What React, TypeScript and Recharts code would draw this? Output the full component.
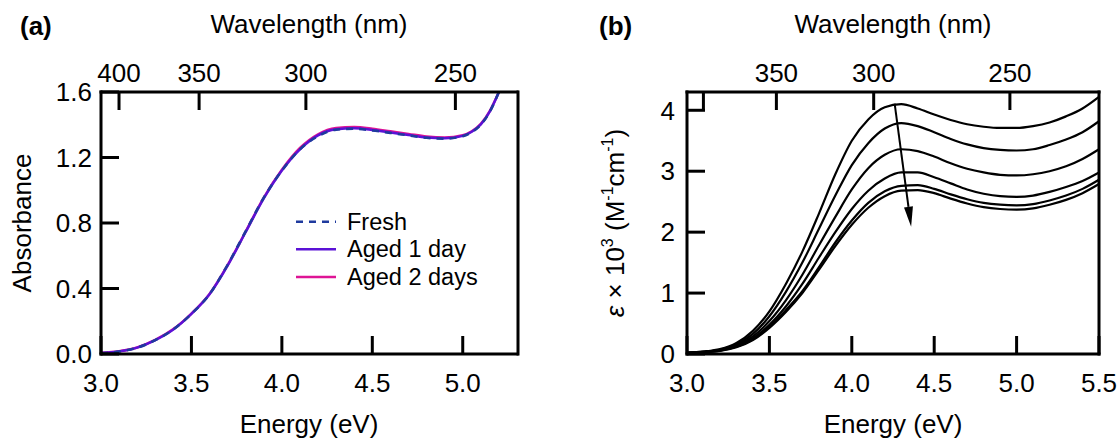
import React from "react";
import { LineChart, Line, XAxis, YAxis, Legend, ReferenceLine } from "recharts";

// hc in eV*nm, used to place the wavelength ticks on the energy scale
const HC = 1239.84;

// ---- panel (a): absorbance ----
const energyA = [3.0, 3.1, 3.2, 3.3, 3.4, 3.5, 3.6, 3.7, 3.8, 3.9, 4.0, 4.1, 4.2, 4.3, 4.4, 4.5, 4.6, 4.7, 4.8, 4.9, 5.0, 5.05, 5.1, 5.15, 5.2];
const freshA = [0.005, 0.015, 0.038, 0.085, 0.15, 0.245, 0.365, 0.545, 0.75, 0.955, 1.12, 1.25, 1.33, 1.37, 1.375, 1.365, 1.35, 1.335, 1.32, 1.315, 1.33, 1.355, 1.4, 1.48, 1.6];
const aged1A = [0.006, 0.016, 0.039, 0.085, 0.15, 0.245, 0.365, 0.54, 0.745, 0.95, 1.12, 1.25, 1.335, 1.372, 1.378, 1.368, 1.352, 1.337, 1.322, 1.317, 1.332, 1.357, 1.402, 1.482, 1.6];
const aged2A = [0.007, 0.017, 0.04, 0.086, 0.152, 0.247, 0.367, 0.543, 0.748, 0.955, 1.125, 1.258, 1.342, 1.38, 1.386, 1.376, 1.36, 1.344, 1.328, 1.322, 1.336, 1.36, 1.405, 1.485, 1.6];

const energyTicksA = [3.0, 3.5, 4.0, 4.5, 5.0];
const absTicks = [0, 0.4, 0.8, 1.2, 1.6];
const absMinorTicks = [0.2, 0.6, 1.0, 1.4];
const wavelengthsA = [400, 350, 300, 250];

// ---- panel (b): molar absorptivity, 6 spectra ----
const energyB = [3.0, 3.1, 3.2, 3.3, 3.4, 3.5, 3.6, 3.7, 3.8, 3.9, 4.0, 4.1, 4.2, 4.3, 4.4, 4.5, 4.6, 4.7, 4.8, 4.9, 5.0, 5.1, 5.2, 5.3, 5.4, 5.5];
const eps1 = [0.02, 0.04, 0.08, 0.18, 0.38, 0.7, 1.15, 1.68, 2.3, 2.95, 3.5, 3.85, 4.05, 4.1, 4.03, 3.93, 3.84, 3.77, 3.73, 3.71, 3.71, 3.74, 3.8, 3.9, 4.03, 4.22];
const eps2 = [0.02, 0.04, 0.07, 0.16, 0.33, 0.62, 1.02, 1.5, 2.05, 2.6, 3.1, 3.46, 3.7, 3.79, 3.74, 3.64, 3.53, 3.44, 3.38, 3.35, 3.34, 3.36, 3.43, 3.52, 3.64, 3.82];
const eps3 = [0.02, 0.035, 0.065, 0.14, 0.29, 0.54, 0.88, 1.3, 1.78, 2.25, 2.7, 3.05, 3.27, 3.36, 3.33, 3.24, 3.13, 3.04, 2.98, 2.94, 2.93, 2.95, 3.0, 3.08, 3.2, 3.36];
const eps4 = [0.02, 0.03, 0.06, 0.13, 0.26, 0.48, 0.78, 1.15, 1.58, 2.0, 2.38, 2.68, 2.88, 2.98, 2.98, 2.9, 2.8, 2.7, 2.63, 2.59, 2.58, 2.6, 2.66, 2.74, 2.84, 2.98];
const eps5 = [0.02, 0.03, 0.055, 0.12, 0.24, 0.45, 0.72, 1.03, 1.42, 1.83, 2.19, 2.48, 2.67, 2.76, 2.77, 2.71, 2.62, 2.54, 2.48, 2.45, 2.44, 2.46, 2.52, 2.6, 2.71, 2.86];
const eps6 = [0.02, 0.03, 0.05, 0.11, 0.23, 0.43, 0.69, 1.0, 1.38, 1.77, 2.12, 2.4, 2.59, 2.68, 2.69, 2.64, 2.55, 2.47, 2.41, 2.38, 2.37, 2.39, 2.45, 2.53, 2.64, 2.79];

const energyTicksB = [3.0, 3.5, 4.0, 4.5, 5.0, 5.5];
const epsTicks = [0, 1, 2, 3, 4];
const epsMajorInner = [1, 2, 3, 4];
const wavelengthsB = [400, 350, 300, 250];
const arrowFrom = { e: 4.26, eps: 4.11 };
const arrowTo = { e: 4.36, eps: 2.09 };

const absRows = energyA.map((e, i) => ({ e, fresh: freshA[i], aged1: aged1A[i], aged2: aged2A[i] }));
const epsSeries = [eps1, eps2, eps3, eps4, eps5, eps6];
const epsRows = energyB.map((e, i) => {
	const row: Record<string, number> = { e };
	epsSeries.forEach((s, k) => (row[`c${k + 1}`] = s[i]));
	return row;
});

const legendItems = [
	{ name: "Fresh", color: "#1f3a9e", dash: "7 6" },
	{ name: "Aged 1 day", color: "#5b12d6", dash: undefined },
	{ name: "Aged 2 days", color: "#de1495", dash: undefined },
];

const FONT = '"Liberation Sans", Arial, Helvetica, sans-serif';
const tickFont = { fontSize: 26, fill: "#000" };
const frame = { stroke: "#000", strokeWidth: 3, strokeLinecap: "square" as const };
const majorTick = { stroke: "#000", strokeWidth: 3 };
const minorTick = { stroke: "#000", strokeWidth: 2.5 };
const toNm = (v: number) => String(Math.round(HC / v));

const AbsLegend = () => (
	<svg width={230} height={90} style={{ overflow: "visible" }}>
		{legendItems.map((it, i) => {
			const y = 11.7 + i * 27.6;
			return (
				<g key={it.name}>
					<line x1={0} x2={40} y1={y} y2={y} stroke={it.color} strokeWidth={2.5} strokeDasharray={it.dash} />
					<text x={51} y={y + 8} fontSize={23.5} fill="#000">
						{it.name}
					</text>
				</g>
			);
		})}
	</svg>
);

const ArrowShape = (props: any) => {
	const { x1, y1, x2, y2 } = props;
	const ang = Math.atan2(y2 - y1, x2 - x1);
	const len = 20;
	const half = 4.5;
	const bx = x2 - len * Math.cos(ang);
	const by = y2 - len * Math.sin(ang);
	const px = -Math.sin(ang) * half;
	const py = Math.cos(ang) * half;
	return (
		<g>
			<line x1={x1} y1={y1} x2={bx} y2={by} stroke="#000" strokeWidth={2} />
			<polygon points={`${x2},${y2} ${bx + px},${by + py} ${bx - px},${by - py}`} fill="#000" />
		</g>
	);
};

// axes get a 1px size (recharts skips axes of size 0), margins are reduced to compensate
const PanelA = () => (
	<LineChart width={560} height={438} data={absRows} margin={{ top: 91, right: 41, bottom: 83, left: 99 }}>
		<XAxis
			dataKey="e"
			type="number"
			domain={[3, 5.3]}
			ticks={energyTicksA}
			interval={0}
			height={1}
			tickSize={-18}
			tickMargin={38}
			tick={tickFont}
			tickFormatter={(v: number) => v.toFixed(1)}
			axisLine={frame}
			tickLine={majorTick}
			label={{
				content: ({ viewBox }: any) => (
					<text x={viewBox.x + viewBox.width / 2} y={433} textAnchor="middle" fontSize={26} fill="#000">
						Energy (eV)
					</text>
				),
			}}
		/>
		<XAxis
			xAxisId="top"
			orientation="top"
			dataKey="e"
			type="number"
			domain={[3, 5.3]}
			ticks={wavelengthsA.map((w) => HC / w)}
			interval={0}
			height={1}
			tickSize={-18}
			tickMargin={28}
			tick={tickFont}
			tickFormatter={toNm}
			axisLine={frame}
			tickLine={majorTick}
			label={{
				content: ({ viewBox }: any) => (
					<g>
						<text x={viewBox.x + viewBox.width / 2} y={33} textAnchor="middle" fontSize={26} fill="#000">
							Wavelength (nm)
						</text>
						<text x={20} y={35} fontSize={26} fontWeight="bold" fill="#000">
							(a)
						</text>
					</g>
				),
			}}
		/>
		<YAxis
			type="number"
			domain={[0, 1.6]}
			ticks={absTicks}
			interval={0}
			width={1}
			tickSize={-18}
			tickMargin={27}
			tick={tickFont}
			tickFormatter={(v: number) => v.toFixed(1)}
			axisLine={frame}
			tickLine={majorTick}
			label={{
				content: ({ viewBox }: any) => {
					const cy = viewBox.y + viewBox.height / 2;
					return (
						<text x={31} y={cy} transform={`rotate(-90, 31, ${cy})`} textAnchor="middle" fontSize={26} fill="#000">
							Absorbance
						</text>
					);
				},
			}}
		/>
		<YAxis yAxisId="minorL" type="number" domain={[0, 1.6]} ticks={absMinorTicks} interval={0} width={1} tickSize={-11} tick={false} axisLine={false} tickLine={minorTick} />
		<YAxis yAxisId="right" orientation="right" type="number" domain={[0, 1.6]} ticks={absTicks} interval={0} width={1} tickSize={-18} tick={false} axisLine={frame} tickLine={majorTick} />
		<YAxis yAxisId="minorR" orientation="right" type="number" domain={[0, 1.6]} ticks={absMinorTicks} interval={0} width={1} tickSize={-11} tick={false} axisLine={false} tickLine={minorTick} />
		<Legend
			layout="vertical"
			align="center"
			verticalAlign="middle"
			content={() => <AbsLegend />}
			wrapperStyle={{ left: 296, top: 210, width: 230, height: 90 }}
		/>
		<Line type="monotone" dataKey="aged2" stroke="#de1495" strokeWidth={2.5} dot={false} activeDot={false} isAnimationActive={false} />
		<Line type="monotone" dataKey="aged1" stroke="#5b12d6" strokeWidth={2.5} dot={false} activeDot={false} isAnimationActive={false} />
		<Line type="monotone" dataKey="fresh" stroke="#1f3a9e" strokeWidth={2.5} strokeDasharray="7 6" dot={false} activeDot={false} isAnimationActive={false} />
	</LineChart>
);

const PanelB = () => (
	<LineChart width={560} height={438} data={epsRows} margin={{ top: 91, right: 20, bottom: 83, left: 126 }}>
		<XAxis
			dataKey="e"
			type="number"
			domain={[3, 5.5]}
			ticks={energyTicksB}
			interval={0}
			height={1}
			tickSize={-18}
			tickMargin={38}
			tick={tickFont}
			tickFormatter={(v: number) => v.toFixed(1)}
			axisLine={frame}
			tickLine={majorTick}
			label={{
				content: ({ viewBox }: any) => (
					<text x={viewBox.x + viewBox.width / 2} y={433} textAnchor="middle" fontSize={26} fill="#000">
						Energy (eV)
					</text>
				),
			}}
		/>
		<XAxis
			xAxisId="top"
			orientation="top"
			dataKey="e"
			type="number"
			domain={[3, 5.5]}
			ticks={wavelengthsB.map((w) => HC / w)}
			interval={0}
			height={1}
			tickSize={-18}
			tickMargin={28}
			tick={tickFont}
			tickFormatter={(v: number) => (Math.round(HC / v) === 400 ? "" : toNm(v))}
			axisLine={frame}
			tickLine={majorTick}
			label={{
				content: ({ viewBox }: any) => (
					<g>
						<text x={viewBox.x + viewBox.width / 2} y={33} textAnchor="middle" fontSize={26} fill="#000">
							Wavelength (nm)
						</text>
						<text x={39} y={35} fontSize={26} fontWeight="bold" fill="#000">
							(b)
						</text>
					</g>
				),
			}}
		/>
		<YAxis
			type="number"
			domain={[0, 4.3]}
			ticks={epsTicks}
			interval={0}
			width={1}
			tickSize={-18}
			tickMargin={30}
			tick={tickFont}
			tickFormatter={(v: number) => String(v)}
			axisLine={frame}
			tickLine={majorTick}
			label={{
				content: ({ viewBox }: any) => {
					const cx = 64;
					const cy = viewBox.y + viewBox.height / 2;
					return (
						<text x={cx} y={cy} transform={`rotate(-90, ${cx}, ${cy})`} textAnchor="middle" fontSize={26} fill="#000">
							<tspan fontStyle="italic">ε</tspan>
							<tspan> × 10</tspan>
							<tspan dy={-11} fontSize={16}>3</tspan>
							<tspan dy={11}> (M</tspan>
							<tspan dy={-11} fontSize={16}>-1</tspan>
							<tspan dy={11}>cm</tspan>
							<tspan dy={-11} fontSize={16}>-1</tspan>
							<tspan dy={11}>)</tspan>
						</text>
					);
				},
			}}
		/>
		<YAxis yAxisId="right" orientation="right" type="number" domain={[0, 4.3]} ticks={epsMajorInner} interval={0} width={1} tickSize={-18} tick={false} axisLine={frame} tickLine={majorTick} />
		{epsSeries.map((_, k) => (
			<Line key={k} type="monotone" dataKey={`c${k + 1}`} stroke="#000" strokeWidth={2.2} dot={false} activeDot={false} isAnimationActive={false} />
		))}
		<ReferenceLine
			segment={[
				{ x: arrowFrom.e, y: arrowFrom.eps },
				{ x: arrowTo.e, y: arrowTo.eps },
			]}
			ifOverflow="visible"
			shape={ArrowShape}
		/>
	</LineChart>
);

export default function App() {
	return (
		<div style={{ position: "absolute", left: 0, top: 0, width: 1120, height: 438, background: "#fff", fontFamily: FONT }}>
			<div style={{ position: "absolute", left: 0, top: 0 }}>
				<PanelA />
			</div>
			<div style={{ position: "absolute", left: 560, top: 0 }}>
				<PanelB />
			</div>
		</div>
	);
}
